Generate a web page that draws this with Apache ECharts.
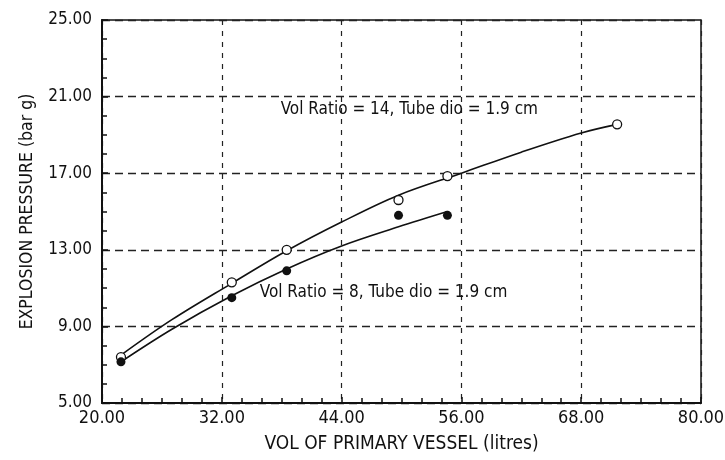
<!DOCTYPE html>
<html>
<head>
<meta charset="utf-8">
<script src="https://cdn.jsdelivr.net/npm/echarts@6/dist/echarts.min.js"></script>
<style>
  html, body { margin: 0; padding: 0; background: #fff; }
  #chart { width: 725px; height: 460px; }
</style>
</head>
<body>
<div id="chart"></div>
<script>
// measured points, vol ratio 14 (open circles)
var ratio14Pts = [[21.9, 7.4], [33.0, 11.3], [38.5, 13.0], [49.7, 15.6], [54.6, 16.85], [71.6, 19.55]];
// measured points, vol ratio 8 (filled circles)
var ratio8Pts = [[21.9, 7.15], [33.0, 10.5], [38.5, 11.9], [49.7, 14.8], [54.6, 14.8]];
// fitted curves
var ratio14Fit = [[21.9, 7.5], [27, 9.35], [33, 11.25], [38.5, 12.95], [44, 14.45], [49.7, 15.85], [56, 17.0], [62, 18.1], [68, 19.1], [71.6, 19.55]];
var ratio8Fit = [[21.9, 7.15], [27, 8.85], [33, 10.6], [38.5, 12.0], [44, 13.2], [49.7, 14.2], [54.6, 15.0]];
// annotations
var labels = [
  { text: 'Vol Ratio = 14, Tube dio = 1.9 cm', at: [37.9, 20.3] },
  { text: 'Vol Ratio = 8, Tube dio = 1.9 cm', at: [35.8, 10.75] }
];

var font = '"DejaVu Sans Condensed", "Liberation Sans Narrow", "DejaVu Sans", sans-serif';
var ink = '#111';
var chart = echarts.init(document.getElementById('chart'));

chart.setOption({
  animation: false,
  backgroundColor: '#fff',
  textStyle: { fontFamily: font, color: ink },
  grid: {
    left: 102, right: 24, top: 20, bottom: 57,
    outerBoundsMode: 'none',
    show: true, borderColor: ink, borderWidth: 1.5
  },
  xAxis: {
    type: 'value', min: 20, max: 80, interval: 12,
    name: 'VOL OF PRIMARY VESSEL (litres)',
    nameLocation: 'middle', nameGap: 32,
    nameTextStyle: { fontSize: 19, color: ink, fontFamily: font },
    axisLine: { show: true, lineStyle: { color: ink, width: 2 } },
    axisTick: { show: true, inside: true, length: 6, lineStyle: { color: ink, width: 1.5 } },
    minorTick: { show: true, splitNumber: 6, length: 5, lineStyle: { color: ink, width: 1.5 } },
    axisLabel: {
      fontSize: 18, color: ink, margin: 6, fontFamily: font,
      formatter: function (v) { return v.toFixed(2); }
    },
    splitLine: { show: true, lineStyle: { color: '#222', width: 1.2, type: [5, 6] } }
  },
  yAxis: {
    type: 'value', min: 5, max: 25, interval: 4,
    name: 'EXPLOSION PRESSURE (bar g)',
    nameLocation: 'middle', nameGap: 66,
    nameTextStyle: { fontSize: 17.5, color: ink, fontFamily: font },
    axisLine: { show: true, lineStyle: { color: ink, width: 2 } },
    axisTick: { show: true, inside: true, length: 6, lineStyle: { color: ink, width: 1.5 } },
    minorTick: { show: true, splitNumber: 4, length: 5, lineStyle: { color: ink, width: 1.5 } },
    axisLabel: {
      fontSize: 17, color: ink, margin: 10, fontFamily: font,
      formatter: function (v) { return v.toFixed(2); }
    },
    splitLine: { show: true, lineStyle: { color: '#222', width: 1.4, type: [8, 5] } }
  },
  series: [
    {
      type: 'line', data: ratio14Fit, smooth: 0.35, showSymbol: false,
      lineStyle: { color: ink, width: 1.6 }, z: 3
    },
    {
      type: 'line', data: ratio8Fit, smooth: 0.35, showSymbol: false,
      lineStyle: { color: ink, width: 1.6 }, z: 3
    },
    {
      type: 'scatter', data: ratio14Pts, symbol: 'circle', symbolSize: 9,
      itemStyle: { color: '#fff', borderColor: ink, borderWidth: 1.3, opacity: 1 }, z: 4
    },
    {
      type: 'scatter', data: ratio8Pts, symbol: 'circle', symbolSize: 9,
      itemStyle: { color: ink, opacity: 1 }, z: 4
    },
    {
      type: 'scatter', symbolSize: 0, silent: true, z: 5,
      itemStyle: { opacity: 1 },
      data: labels.map(function (l) {
        return {
          value: l.at,
          label: {
            show: true, position: 'right', distance: 0, formatter: l.text,
            fontSize: 17, color: ink, fontFamily: font
          }
        };
      })
    }
  ]
});
</script>
</body>
</html>
